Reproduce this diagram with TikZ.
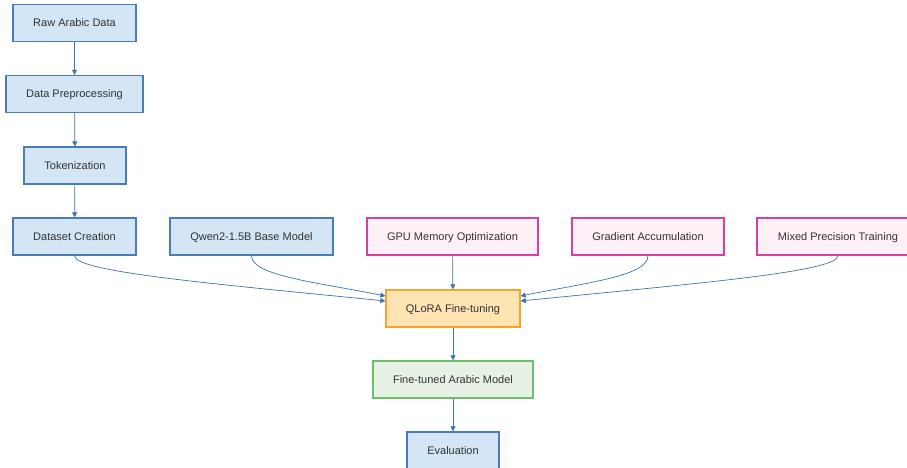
\documentclass[tikz,border=0pt]{standalone}
\usepackage{fontspec}
\setmainfont{Liberation Sans}
\usetikzlibrary{arrows.meta}
\definecolor{bfill}{HTML}{D4E5F5}
\definecolor{bdraw}{HTML}{4A7DB5}
\definecolor{pfill}{HTML}{FDF0F6}
\definecolor{pdraw}{HTML}{D6409F}
\definecolor{ofill}{HTML}{FFE4B3}
\definecolor{odraw}{HTML}{F5A52A}
\definecolor{gfill}{HTML}{E6F2E4}
\definecolor{gdraw}{HTML}{6DBE6B}
\definecolor{txt}{HTML}{333333}
\definecolor{edge}{HTML}{3D72B0}
\begin{document}
\begin{tikzpicture}[x=1pt,y=-1pt,
  box/.style={draw,line width=1.3pt,minimum height=37pt,inner sep=0pt,text height=8pt,text depth=0.5pt,font=\fontsize{11}{13}\selectfont,text=txt},
  bluebox/.style={box,fill=bfill,draw=bdraw},
  pinkbox/.style={box,fill=pfill,draw=pdraw},
  orangebox/.style={box,fill=ofill,draw=odraw},
  greenbox/.style={box,fill=gfill,draw=gdraw},
  conn/.style={draw=edge,line width=0.7pt,-{Triangle[length=5pt,width=5pt]}}]
\useasboundingbox (0,0) rectangle (907,468);
\clip (0,0) rectangle (907,468);
\node[bluebox,minimum width=123pt] (raw) at (74.5,23) {Raw Arabic Data};
\node[bluebox,minimum width=137pt] (pre) at (74.5,94) {Data Preprocessing};
\node[bluebox,minimum width=102pt] (tok) at (75,165.5) {Tokenization};
\node[bluebox,minimum width=123pt] (ds) at (74.5,236.5) {Dataset Creation};
\node[bluebox,minimum width=163pt] (qwen) at (251.5,236.5) {Qwen2-1.5B Base Model};
\node[pinkbox,minimum width=171pt] (gpu) at (452.5,236.5) {GPU Memory Optimization};
\node[pinkbox,minimum width=152pt] (grad) at (648,236.5) {Gradient Accumulation};
\node[pinkbox,minimum width=162pt] (mix) at (838,236.5) {Mixed Precision Training};
\node[orangebox,minimum width=134pt] (qlora) at (453,308.5) {QLoRA Fine-tuning};
\node[greenbox,minimum width=160pt] (ft) at (453,379.5) {Fine-tuned Arabic Model};
\node[bluebox,minimum width=92pt] (ev) at (453,450.5) {Evaluation};
\coordinate (qlA) at ([yshift=12.5pt]qlora.west);
\coordinate (qlB) at ([yshift=7.5pt]qlora.west);
\coordinate (qrA) at ([yshift=12.5pt]qlora.east);
\coordinate (qrB) at ([yshift=7.5pt]qlora.east);
\draw[conn] (raw) -- (pre);
\draw[conn] (pre) -- (tok);
\draw[conn] (tok) -- (ds);
\draw[conn] (gpu) -- (qlora);
\draw[conn] (qlora) -- (ft);
\draw[conn] (ft) -- (ev);
\draw[conn] (ds.south) .. controls +(0,16) and +(-180,-18) .. (qlB);
\draw[conn] (qwen.south) .. controls +(0,20) and +(-70,-14) .. (qlA);
\draw[conn] (grad.south) .. controls +(0,20) and +(70,-14) .. (qrA);
\draw[conn] (mix.south) .. controls +(0,16) and +(180,-18) .. (qrB);
\end{tikzpicture}
\end{document}
